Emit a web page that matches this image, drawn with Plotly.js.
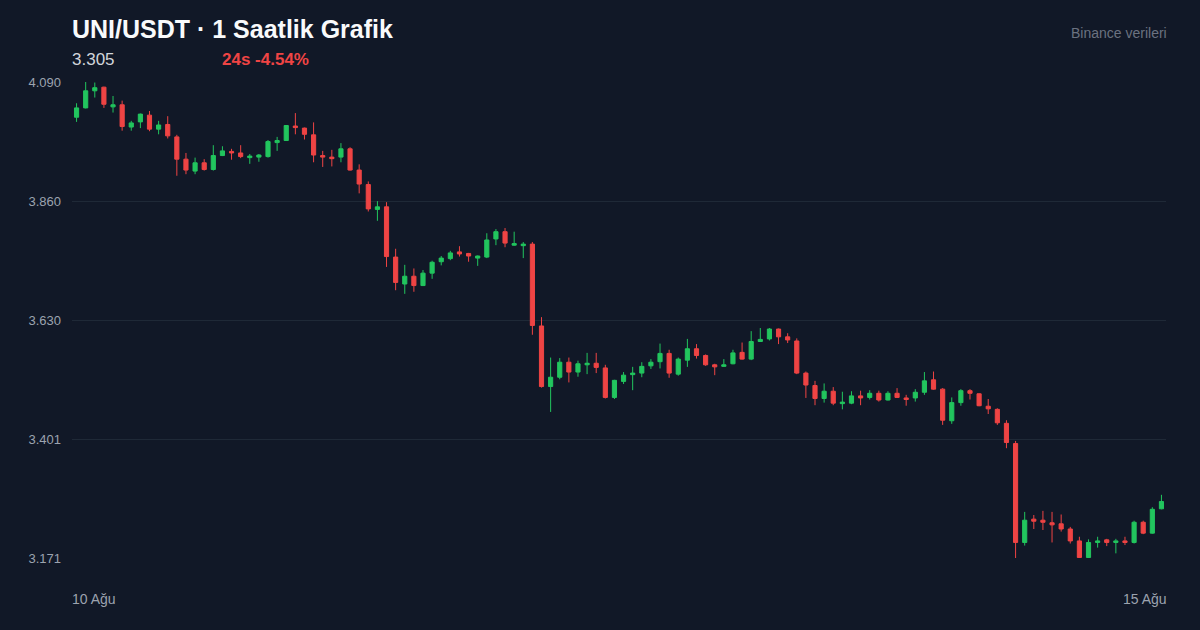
<!DOCTYPE html>
<html>
<head>
<meta charset="utf-8">
<script src="https://cdn.plot.ly/plotly-3.0.1.min.js"></script>
<style>
html,body{margin:0;padding:0;background:#111827;}
#chart{width:1200px;height:630px;}
</style>
</head>
<body>
<div id="chart"></div>
<script>
// Hourly candles, 10 Ağu → 15 Ağu (120 bars)
const openP = [4.022,4.040,4.073,4.080,4.042,4.046,4.003,4.013,4.026,3.999,
4.008,3.984,3.941,3.918,3.934,3.921,3.948,3.956,3.953,3.944,
3.945,3.946,3.973,3.977,4.005,4.001,3.988,3.948,3.945,3.945,
3.961,3.920,3.892,3.844,3.849,3.752,3.700,3.715,3.697,3.721,
3.743,3.749,3.762,3.759,3.750,3.752,3.787,3.801,3.775,3.774,
3.777,3.619,3.502,3.520,3.549,3.530,3.544,3.547,3.538,3.481,
3.512,3.525,3.528,3.542,3.550,3.566,3.526,3.553,3.575,3.562,
3.544,3.541,3.546,3.568,3.555,3.589,3.594,3.613,3.598,3.590,
3.528,3.504,3.479,3.493,3.469,3.470,3.484,3.481,3.489,3.476,
3.489,3.480,3.480,3.491,3.515,3.497,3.436,3.471,3.494,3.488,
3.464,3.458,3.431,3.392,3.201,3.246,3.244,3.239,3.237,3.227,
3.204,3.172,3.201,3.206,3.201,3.204,3.201,3.240,3.219,3.266];
const highP = [4.049,4.090,4.089,4.081,4.063,4.054,4.015,4.029,4.034,4.015,
4.024,3.988,3.953,3.944,3.941,3.968,3.966,3.961,3.968,3.951,
3.951,3.978,3.984,4.007,4.030,4.002,4.012,3.957,3.959,3.972,
3.964,3.931,3.898,3.860,3.858,3.768,3.737,3.730,3.727,3.745,
3.754,3.764,3.773,3.760,3.755,3.798,3.806,3.808,3.801,3.781,
3.781,3.636,3.558,3.557,3.558,3.552,3.567,3.567,3.544,3.515,
3.530,3.540,3.549,3.555,3.585,3.573,3.558,3.594,3.584,3.564,
3.546,3.555,3.573,3.587,3.609,3.615,3.615,3.614,3.605,3.595,
3.531,3.513,3.508,3.501,3.492,3.493,3.494,3.495,3.494,3.493,
3.499,3.486,3.497,3.530,3.531,3.499,3.481,3.497,3.497,3.489,
3.478,3.460,3.437,3.397,3.260,3.254,3.262,3.260,3.255,3.231,
3.212,3.207,3.212,3.208,3.208,3.212,3.243,3.243,3.269,3.293];
const lowP = [4.013,4.039,4.060,4.040,4.031,3.996,3.996,4.001,3.995,3.989,
3.981,3.909,3.912,3.912,3.919,3.919,3.947,3.940,3.943,3.932,
3.936,3.944,3.957,3.977,3.989,3.979,3.935,3.926,3.927,3.935,
3.919,3.875,3.840,3.822,3.733,3.688,3.681,3.685,3.696,3.710,
3.736,3.746,3.753,3.743,3.735,3.750,3.775,3.771,3.774,3.750,
3.602,3.500,3.453,3.516,3.510,3.521,3.526,3.528,3.479,3.478,
3.507,3.495,3.520,3.536,3.537,3.519,3.523,3.540,3.556,3.542,
3.524,3.540,3.545,3.554,3.553,3.588,3.591,3.584,3.586,3.526,
3.480,3.466,3.471,3.466,3.458,3.468,3.466,3.477,3.473,3.475,
3.480,3.465,3.473,3.486,3.496,3.428,3.430,3.465,3.477,3.464,
3.449,3.428,3.383,3.171,3.195,3.227,3.225,3.201,3.222,3.199,
3.171,3.171,3.191,3.194,3.180,3.196,3.199,3.217,3.218,3.265];
const closeP = [4.040,4.073,4.079,4.047,4.046,4.004,4.011,4.028,3.999,4.007,
3.986,3.941,3.920,3.934,3.921,3.948,3.957,3.953,3.946,3.947,
3.949,3.975,3.977,4.006,4.002,3.989,3.949,3.945,3.942,3.961,
3.920,3.893,3.845,3.849,3.753,3.703,3.715,3.697,3.721,3.742,
3.750,3.760,3.758,3.754,3.754,3.785,3.801,3.779,3.778,3.777,
3.620,3.502,3.520,3.549,3.530,3.546,3.547,3.539,3.481,3.514,
3.524,3.528,3.541,3.549,3.566,3.528,3.555,3.575,3.562,3.544,
3.540,3.544,3.567,3.555,3.589,3.593,3.613,3.598,3.592,3.528,
3.505,3.479,3.493,3.470,3.472,3.484,3.480,3.489,3.476,3.489,
3.481,3.477,3.491,3.513,3.497,3.437,3.471,3.494,3.489,3.465,
3.459,3.432,3.394,3.201,3.244,3.242,3.240,3.235,3.227,3.204,
3.172,3.201,3.204,3.201,3.204,3.201,3.240,3.219,3.265,3.280];

const yTickVals = [4.090, 3.86025, 3.6305, 3.40075, 3.171];
const yTickText = ["4.090", "3.860", "3.630", "3.401", "3.171"];
const xLabels = ["10 Ağu", "15 Ağu"];

const titleText = "UNI/USDT · 1 Saatlik Grafik";
const lastPrice = "3.305";
const changeText = "24s -4.54%";
const sourceText = "Binance verileri";

const idx = openP.map((_, i) => i);

const GREEN = "#22c55e", RED = "#ef4444";
const FONT = "Liberation Sans, Arial, Helvetica, sans-serif";

const trace = {
  type: "candlestick",
  x: idx, open: openP, high: highP, low: lowP, close: closeP,
  increasing: {line: {color: GREEN, width: 1}, fillcolor: GREEN},
  decreasing: {line: {color: RED, width: 1}, fillcolor: RED},
  whiskerwidth: 0,
  hoverinfo: "skip",
  showlegend: false
};

const H = 476; // plot height px
function py(px) { return (558 - px) / H; }

const layout = {
  width: 1200, height: 630,
  paper_bgcolor: "#111827", plot_bgcolor: "#111827",
  margin: {l: 72, r: 34, t: 82, b: 72, pad: 0},
  font: {family: FONT, color: "#9ca3af"},
  showlegend: false,
  boxgap: 0.35,
  xaxis: {
    type: "linear", range: [-0.5, idx.length - 0.5],
    showgrid: false, zeroline: false, showline: false,
    showticklabels: false, ticks: "",
    rangeslider: {visible: false}, fixedrange: true
  },
  yaxis: {
    range: [3.171, 4.090],
    tickmode: "array", tickvals: yTickVals, ticktext: yTickText,
    showgrid: true, gridcolor: "#1f2937", gridwidth: 1,
    zeroline: false, showline: false, ticks: "",
    ticklabelstandoff: 10,
    tickfont: {size: 13, color: "#9ca3af", family: FONT},
    fixedrange: true
  },
  annotations: [
    {xref: "paper", yref: "paper", x: 0, y: py(29), xanchor: "left", yanchor: "middle",
     text: "<b>" + titleText + "</b>", showarrow: false,
     font: {size: 25, color: "#f9fafb", family: FONT}, xshift: -2},
    {xref: "paper", yref: "paper", x: 0, y: py(60), xanchor: "left", yanchor: "middle",
     text: lastPrice, showarrow: false,
     font: {size: 17, color: "#d1d5db", family: FONT}, xshift: -2},
    {xref: "paper", yref: "paper", x: (222 - 72) / 1094, y: py(60), xanchor: "left", yanchor: "middle",
     text: "<b>" + changeText + "</b>", showarrow: false,
     font: {size: 17, color: RED, family: FONT}, xshift: -2},
    {xref: "paper", yref: "paper", x: 1, y: py(33), xanchor: "right", yanchor: "middle",
     text: sourceText, showarrow: false,
     font: {size: 14, color: "#6b7280", family: FONT}, xshift: 3},
    {xref: "paper", yref: "paper", x: 0, y: py(599), xanchor: "left", yanchor: "middle",
     text: xLabels[0], showarrow: false,
     font: {size: 14, color: "#9ca3af", family: FONT}, xshift: -2},
    {xref: "paper", yref: "paper", x: 1, y: py(599), xanchor: "right", yanchor: "middle",
     text: xLabels[1], showarrow: false,
     font: {size: 14, color: "#9ca3af", family: FONT}, xshift: 3}
  ]
};

Plotly.newPlot("chart", [trace], layout, {staticPlot: true, displayModeBar: false});
</script>
</body>
</html>
